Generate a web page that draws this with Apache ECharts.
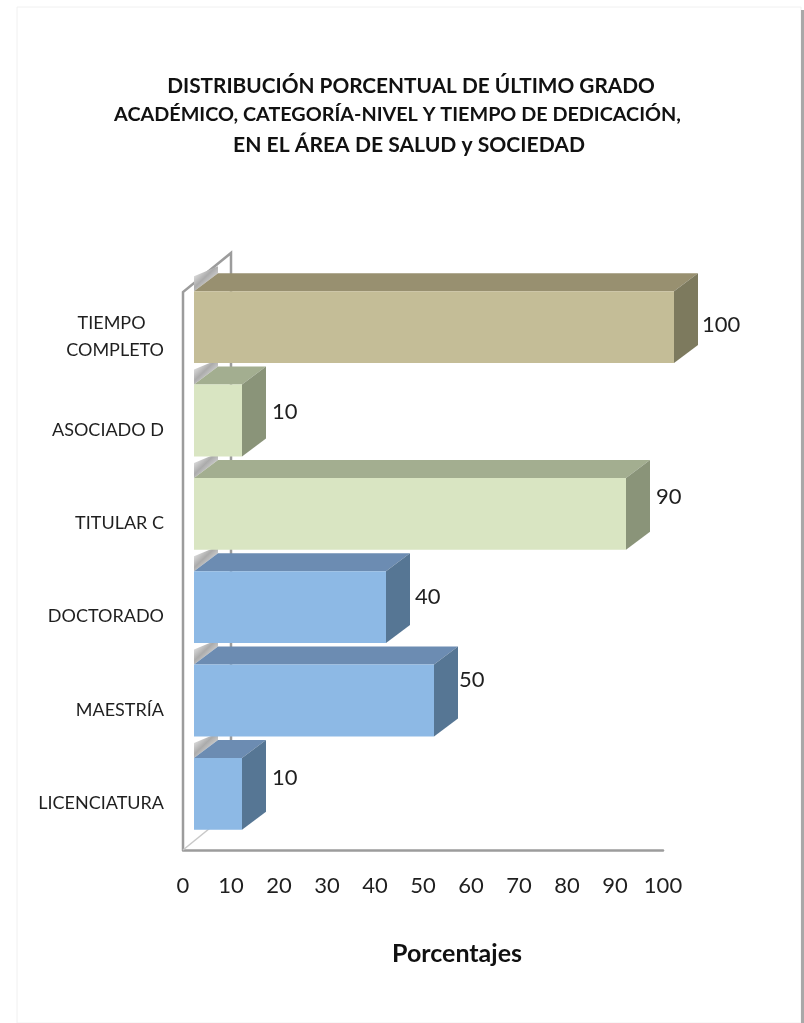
<!DOCTYPE html>
<html>
<head>
<meta charset="utf-8">
<title>Distribución porcentual</title>
<script src="https://cdn.jsdelivr.net/npm/echarts@6/dist/echarts.min.js"></script>
<style>
  html, body { margin: 0; padding: 0; background: #fff; }
  #chart { width: 804px; height: 1023px; }
</style>
</head>
<body>
<div id="chart"></div>
<script>
const categories = ['LICENCIATURA', 'MAESTRÍA', 'DOCTORADO', 'TITULAR C', 'ASOCIADO D', 'TIEMPO\u00a0\u00a0\u00a0\u00a0\nCOMPLETO'];
const values = [10, 50, 40, 90, 10, 100];
const groups = ['grado', 'grado', 'grado', 'categoria', 'categoria', 'tiempo'];
const xTicks = [0, 100, 10]; // min, max, interval
const titleLines = [
  'DISTRIBUCIÓN PORCENTUAL DE ÚLTIMO GRADO',
  'ACADÉMICO, CATEGORÍA-NIVEL Y TIEMPO DE DEDICACIÓN,',
  'EN EL ÁREA DE SALUD y SOCIEDAD'
];
const xName = 'Porcentajes';

// colores de cada grupo: frente, tapa, lado
const palette = {
  grado: ['#8DB9E5', '#6C8CB2', '#567694'],
  categoria: ['#D9E5C2', '#A3AE90', '#8A9479'],
  tiempo: ['#C4BD97', '#989070', '#7D7A5E']
};
// las etiquetas no van alineadas en el original
const labelNudge = [-25, -30, -20, -26, -18, -12];
const labelGap = [30, 25, 29, 30, 30, 28];

// cada linea del titulo: centro, arriba, tamaño
const titleLayout = [[406, 71, 20.8], [392.5, 100, 19.8], [404, 130, 21.1]];

// profundidad del efecto 3D
const depthX = 24, depthY = 18;
const wallX = 48, wallY = 39;
const shiftX = 11, shiftY = -9.5;

const chart = echarts.init(document.getElementById('chart'));

const renderBar = (params, api) => {
  const i = api.value(1);
  const start = api.coord([0, i]);
  const end = api.coord([api.value(0), i]);
  const band = api.size([0, 1])[1];
  const h = band * 0.77;
  const x0 = start[0] + shiftX;
  const x1 = end[0] + shiftX;
  const y0 = start[1] + shiftY - h / 2;
  const y1 = y0 + h;
  const c = palette[groups[i]];
  return {
    type: 'group',
    children: [
      { type: 'polygon', shape: { points: [[x0, y0], [x1, y0], [x1 + depthX, y0 - depthY], [x0 + depthX, y0 - depthY]] }, style: { fill: c[1] } },
      { type: 'polygon', shape: { points: [[x1, y0], [x1 + depthX, y0 - depthY], [x1 + depthX, y1 - depthY], [x1, y1]] }, style: { fill: c[2] } },
      { type: 'rect', shape: { x: x0, y: y0, width: x1 - x0, height: h }, style: { fill: c[0] } },
      { type: 'text', style: { x: x1 + labelGap[i], y: start[1] + labelNudge[i], text: String(api.value(0)), fill: '#1f1f1f', font: '22px Lato', align: 'left', verticalAlign: 'middle' } }
    ]
  };
};

// brillo gris detrás de cada barra
const renderGlare = (params, api) => {
  const i = api.value(1);
  const start = api.coord([0, i]);
  const band = api.size([0, 1])[1];
  const x0 = start[0] + shiftX;
  const y0 = start[1] + shiftY - band * 0.385;
  return {
    type: 'polygon',
    shape: { points: [[x0, y0], [x0 + depthX, y0 - depthY], [x0 + depthX, y0 - depthY - 7], [x0, y0 - 15]] },
    style: {
      fill: new echarts.graphic.LinearGradient(0, 0, 1, 1, [
        { offset: 0, color: '#ffffff' },
        { offset: 0.45, color: '#ababab' },
        { offset: 0.7, color: '#d4d4d4' },
        { offset: 1, color: '#f4f4f4' }
      ])
    }
  };
};

// pared y piso del gráfico
const renderWall = (params, api) => {
  const band = api.size([0, 1])[1];
  const bottom = api.coord([0, 0]);
  const top = api.coord([0, categories.length - 1]);
  const yBottom = bottom[1] + band / 2;
  const yTop = top[1] - band / 2 + 2;
  const x = bottom[0];
  const line = { stroke: '#9c9c9c', lineWidth: 2.5, fill: 'none' };
  return {
    type: 'group',
    children: [
      { type: 'polyline', shape: { points: [[x, yBottom], [x, yTop], [x + wallX, yTop - wallY], [x + wallX, yBottom - wallY]] }, style: line },
      { type: 'line', shape: { x1: x, y1: yBottom, x2: x + wallX, y2: yBottom - wallY }, style: { stroke: '#c8c8c8', lineWidth: 1.5 } }
    ]
  };
};

const option = {
  backgroundColor: '#fff',
  animation: false,
  title: titleLines.map((text, i) => ({
    text,
    left: titleLayout[i][0],
    top: titleLayout[i][1],
    textAlign: 'center',
    textStyle: { fontFamily: 'Lato', fontWeight: 'bold', fontSize: titleLayout[i][2], color: '#111' }
  })),
  grid: { left: 183, top: 290, width: 480, height: 560, containLabel: false },
  xAxis: {
    type: 'value',
    min: xTicks[0],
    max: xTicks[1],
    interval: xTicks[2],
    name: xName,
    nameLocation: 'middle',
    nameGap: 91,
    nameTextStyle: { fontFamily: 'Lato', fontWeight: 'bold', fontSize: 25, color: '#111', padding: [0, 0, 0, 68] },
    axisLine: { show: true, lineStyle: { color: '#9c9c9c', width: 2.5 } },
    axisTick: { show: false },
    splitLine: { show: false },
    axisLabel: { fontFamily: 'Lato', fontSize: 22, color: '#1f1f1f', margin: 25 }
  },
  yAxis: {
    type: 'category',
    data: categories,
    axisLine: { show: false },
    axisTick: { show: false },
    axisLabel: { fontFamily: 'Lato', fontSize: 18, lineHeight: 27, color: '#1f1f1f', margin: 19, align: 'right', padding: [7, 0, 0, 0] }
  },
  graphic: [
    { type: 'rect', shape: { x: 17, y: 7, width: 784, height: 1016 }, style: { fill: 'none', stroke: '#f0f0f0', lineWidth: 1 }, z: -1 },
    { type: 'rect', shape: { x: 801, y: 10, width: 3, height: 1013 }, style: { fill: '#a8a8a8' }, z: -1 }
  ],
  series: [
    { type: 'custom', renderItem: renderWall, data: [[0, 0]], encode: { x: 0, y: 1 }, z: 1, silent: true },
    { type: 'custom', renderItem: renderGlare, data: values.map((v, i) => [v, i]), encode: { x: 0, y: 1 }, z: 2, silent: true },
    { type: 'custom', renderItem: renderBar, data: values.map((v, i) => [v, i]), encode: { x: 0, y: 1 }, z: 3, silent: true }
  ]
};
chart.setOption(option);
</script>
</body>
</html>
